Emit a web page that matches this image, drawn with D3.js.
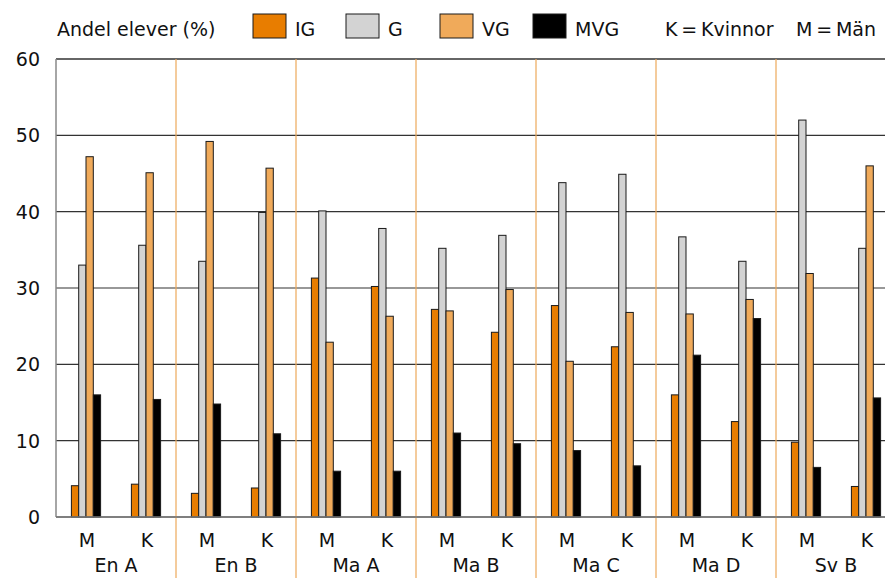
<!DOCTYPE html>
<html><head><meta charset="utf-8">
<script src="https://cdn.jsdelivr.net/npm/d3@7"></script>
<style>body{margin:0;background:#fff}svg{display:block}text{font-family:"DejaVu Sans",sans-serif;fill:#111}</style>
</head><body><svg id="c" width="885" height="578"></svg>
<script>
const categories = ["En A","En B","Ma A","Ma B","Ma C","Ma D","Sv B"];
const sexes = ["M","K"];
const series = ["IG","G","VG","MVG"];
const seriesColors = ["#e87d00","#d3d3d3","#f0aa5a","#000000"];
const yTicks = [0,10,20,30,40,50,60];
// values[series][category][sex: M,K]
const IG  = [[4.1,4.3],[3.1,3.8],[31.3,30.2],[27.2,24.2],[27.7,22.3],[16.0,12.5],[9.8,4.0]];
const G   = [[33.0,35.6],[33.5,39.9],[40.1,37.8],[35.2,36.9],[43.8,44.9],[36.7,33.5],[52.0,35.2]];
const VG  = [[47.2,45.1],[49.2,45.7],[22.9,26.3],[27.0,29.8],[20.4,26.8],[26.6,28.5],[31.9,46.0]];
const MVG = [[16.0,15.4],[14.8,10.9],[6.0,6.0],[11.0,9.6],[8.7,6.7],[21.2,26.0],[6.5,15.6]];
const seriesValues = [IG,G,VG,MVG];

(function(){
const svg = d3.select("#c");
const pL = 56, pR = 896, pT = 59, pB = 517;
const x0 = d3.scaleBand().domain(categories).range([pL, pR]);
const x1 = d3.scaleBand().domain(sexes).range([0, x0.bandwidth()]);
const x2 = d3.scaleBand().domain(series).range([-14.6, 14.6]);
const y = d3.scaleLinear().domain([0,60]).range([pB, pT]);
const color = d3.scaleOrdinal().domain(series).range(seriesColors);

// gridlines
svg.append("g").selectAll("line").data(yTicks).join("line")
  .attr("x1", pL).attr("x2", 885)
  .attr("y1", d => y(d)).attr("y2", d => y(d))
  .attr("stroke", d => d===0 ? "#777" : "#333").attr("stroke-width", d => d===0||d===60 ? 1.5 : 1.2);

// separators
svg.append("g").selectAll("line").data(categories.slice(1)).join("line")
  .attr("x1", d => x0(d)).attr("x2", d => x0(d))
  .attr("y1", pT).attr("y2", 578)
  .attr("stroke", "#eda85a").attr("stroke-width", 1.2);

// y axis line
svg.append("line").attr("x1", pL).attr("x2", pL).attr("y1", pT).attr("y2", pB)
  .attr("stroke", "#888").attr("stroke-width", 1.5);

// y tick labels
svg.append("g").selectAll("text").data(yTicks).join("text")
  .attr("x", 40).attr("y", d => y(d)).attr("dy", "0.36em")
  .attr("text-anchor", "end").attr("font-size", 19).text(d => d);

// bars
const flat = [];
categories.forEach((c, ci) => sexes.forEach((s, si) => series.forEach((k, ki) => {
  flat.push({c, s, k, v: seriesValues[ki][ci][si]});
})));
svg.append("g").selectAll("rect").data(flat).join("rect")
  .attr("x", d => x0(d.c) + x1(d.s) + x1.bandwidth()/2 + x2(d.k))
  .attr("width", x2.bandwidth())
  .attr("y", d => y(d.v))
  .attr("height", d => y(0) - y(d.v))
  .attr("fill", d => color(d.k))
  .attr("stroke", "#1a1a1a").attr("stroke-width", 1);

// baseline on top
svg.append("line").attr("x1", pL).attr("x2", 885).attr("y1", y(0)).attr("y2", y(0))
  .attr("stroke", "#777").attr("stroke-width", 1.5);

// x labels
const sub = [];
categories.forEach(c => sexes.forEach(s => sub.push({c, s})));
svg.append("g").selectAll("text").data(sub).join("text")
  .attr("x", d => x0(d.c) + x1(d.s) + x1.bandwidth()/2 + 1)
  .attr("y", 547).attr("text-anchor", "middle").attr("font-size", 19).text(d => d.s);
svg.append("g").selectAll("text").data(categories).join("text")
  .attr("x", d => x0(d) + x0.bandwidth()/2)
  .attr("y", 572).attr("text-anchor", "middle").attr("font-size", 19).text(d => d);

// legend
svg.append("text").attr("x", 57).attr("y", 36).attr("font-size", 19).text("Andel elever (%)");
const legX = [253, 346, 440, 533];
const lg = svg.append("g").selectAll("g").data(series).join("g")
  .attr("transform", (d,i) => `translate(${legX[i]},14)`);
lg.append("rect").attr("width", 33).attr("height", 24)
  .attr("fill", d => color(d)).attr("stroke", "#1a1a1a").attr("stroke-width", 1);
lg.append("text").attr("x", 42).attr("y", 22).attr("font-size", 19).text(d => d);
svg.append("text").attr("x", 665).attr("y", 36).attr("font-size", 19).text("K\u2009=\u2009Kvinnor");
svg.append("text").attr("x", 796).attr("y", 36).attr("font-size", 19).text("M\u2009=\u2009Män");
})();
</script></body></html>
